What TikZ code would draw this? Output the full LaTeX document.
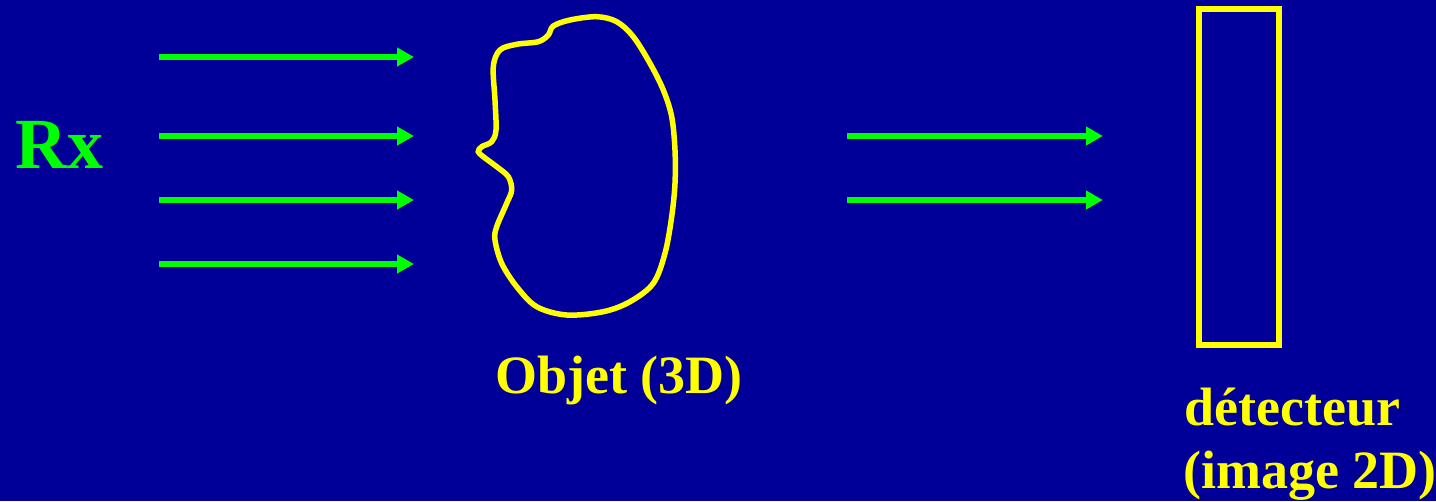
\documentclass[tikz,border=0pt]{standalone}
\usepackage{fontspec}
\setmainfont{Liberation Serif}
\usetikzlibrary{arrows.meta}
\definecolor{slideblue}{RGB}{0,0,153}
\definecolor{raygreen}{RGB}{0,255,0}
\definecolor{objyellow}{RGB}{255,255,0}

\begin{document}
\begin{tikzpicture}[
    x=1pt, y=-1pt,
    % Incoming and transmitted X-rays
    ray/.style={
        draw=raygreen,
        line width=6pt,
        -{Triangle[length=17pt, width=18pt]}
    },
    outline/.style={draw=objyellow, line width=5.5pt},
    yellowtext/.style={
        text=objyellow,
        font=\bfseries\fontsize{54}{65}\selectfont,
        inner sep=0pt,
        anchor=base west
    }
]
    % Background of the slide
    \fill[slideblue] (0,0) rectangle (1436,501);
    \useasboundingbox (0,0) rectangle (1436,501);

    % Source label
    \node(rx)[text=raygreen, font=\bfseries\fontsize{72}{86}\selectfont,
        inner sep=0pt, anchor=base west] at (15,168) {Rx};

    % Rays in front of the object
    \foreach \y [count=\i] in {57, 136, 200, 264} {
        \coordinate (in-\i-start) at (159,\y);
        \coordinate (in-\i-end) at (414,\y);
        \draw[ray] (in-\i-start) -- (in-\i-end);
    }

    % Rays behind the object
    \foreach \y [count=\i] in {136, 200} {
        \coordinate (out-\i-start) at (847,\y);
        \coordinate (out-\i-end) at (1103,\y);
        \draw[ray] (out-\i-start) -- (out-\i-end);
    }

    % The object itself (free outline)
    \draw[outline] plot[smooth cycle, tension=0.55] coordinates {
        (596.7,16.7) (616.7,21.7) (633.3,36.7) (650,63.3) (663.3,90)
        (671.7,116.7) (675,150) (675,183.3) (671.7,216.7) (665,253.3)
        (653.3,283.3) (630,301.7) (603.3,311.7) (566.7,315) (536.7,306.7)
        (516.7,286.7) (501.7,263.3) (495,240) (496.7,226.7) (506.7,203.3)
        (511.7,190) (508.3,176.7) (496.7,166.7) (483.3,156.7) (478.3,151.7)
        (481.7,146.7) (491.7,141.7) (496,130) (495,100) (493.3,66.7)
        (500,50) (516.7,44.3) (538.3,41.7) (548.3,35) (553.3,26) (570,20)
    };
    \node(objet)[yellowtext] at (495,393) {Objet (3D)};

    % Detector plate
    \node(detector)[draw=objyellow, line width=6pt, inner sep=0pt,
        minimum width=80pt, minimum height=336pt] at (1239,177) {};
    \node(detlabel)[yellowtext] at (1184,425) {détecteur};
    \node(imglabel)[yellowtext] at (1183,488) {(image 2D)};
\end{tikzpicture}
\end{document}
